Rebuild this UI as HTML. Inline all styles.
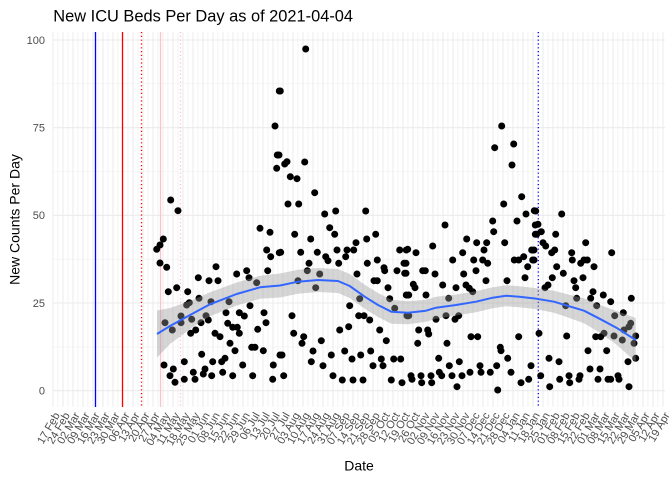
<!DOCTYPE html>
<html><head><meta charset="utf-8"><style>
html,body{margin:0;padding:0;background:#fff;}
svg{display:block;font-family:"Liberation Sans",Arial,sans-serif;}
</style></head><body>
<svg width="672" height="480" viewBox="0 0 672 480" xmlns="http://www.w3.org/2000/svg">
<defs>
<pattern id="vgp" patternUnits="userSpaceOnUse" x="52.5" y="0" width="10" height="480">
<rect x="0" y="0" width="1" height="480" fill="#ebebeb"/>
<rect x="5" y="0" width="0.8" height="480" fill="#f0f0f0"/>
</pattern>
</defs>
<rect width="672" height="480" fill="#fff"/>
<!-- minor horizontal grid -->
<g stroke="#f0f0f0" stroke-width="0.6">
<line x1="53" x2="665" y1="346.9" y2="346.9"/><line x1="53" x2="665" y1="259.2" y2="259.2"/><line x1="53" x2="665" y1="171.5" y2="171.5"/><line x1="53" x2="665" y1="83.8" y2="83.8"/>
</g>
<!-- vertical grid -->
<rect x="52.5" y="32" width="611.5" height="375" fill="url(#vgp)"/>
<!-- major horizontal grid -->
<g stroke="#ebebeb" stroke-width="1.1">
<line x1="53" x2="665" y1="390.7" y2="390.7"/><line x1="53" x2="665" y1="303" y2="303"/><line x1="53" x2="665" y1="215.35" y2="215.35"/><line x1="53" x2="665" y1="127.7" y2="127.7"/><line x1="53" x2="665" y1="40" y2="40"/>
</g>
<!-- reference lines -->
<g stroke-width="1.3">
<line x1="95.5" x2="95.5" y1="32" y2="407" stroke="#0000ff"/>
<line x1="122.5" x2="122.5" y1="32" y2="407" stroke="#ff0000"/>
<line x1="141.5" x2="141.5" y1="32" y2="407" stroke="#ff0000" stroke-dasharray="1.2 2.6"/>
<line x1="160.5" x2="160.5" y1="32" y2="407" stroke="#ffc0cb"/>
<line x1="180.5" x2="180.5" y1="32" y2="407" stroke="#ffc0cb" stroke-dasharray="1.2 2.6"/>
<line x1="538.3" x2="538.3" y1="32" y2="407" stroke="#0000ff" stroke-dasharray="1.2 2.6"/>
</g>
<!-- points -->
<path fill="none" stroke="#000" stroke-width="7" stroke-linecap="round" d="M156.7 249.3h0M160 245h0M163.3 239h0M160 263h0M166.7 267.3h0M170.7 200h0M178 210.7h0M168.3 291.7h0M176.7 287.7h0M187.7 291.7h0M198.3 277.7h0M209 280.7h0M218 280.7h0M216 266.7h0M236.7 274h0M246.7 270.7h0M249 277.7h0M256.7 282.7h0M260 228.3h0M270 232.3h0M266.7 250h0M270.7 256.7h0M267.7 270.7h0M279.3 252.7h0M275 126h0M277.3 155h0M276.7 168.3h0M279.3 91h0M165 322.7h0M172.3 330h0M181 316h0M181 322.7h0M186.7 305h0M189.3 302.7h0M191.7 319.3h0M199 298.3h0M206 315.7h0M201 322.7h0M208.3 320h0M211 301.7h0M229 301.7h0M226 312.7h0M250 305.7h0M264 312.7h0M266 322.7h0M239.3 312.7h0M244.3 316h0M190.7 333.3h0M195.7 330h0M215 333.3h0M220 336.7h0M227.7 323.3h0M232.7 327.3h0M237.3 327.3h0M239.3 333.3h0M257.7 329.3h0M230 343.3h0M235 350.7h0M251.7 347.3h0M255 347.3h0M263.3 350.7h0M280 355h0M201.7 354.3h0M164 365h0M173.3 369h0M170 375.7h0M175 382.3h0M184.3 361.7h0M184.3 379.3h0M193.3 372.3h0M195 379.3h0M203.3 374h0M205 369h0M212.7 361.7h0M211.7 375.7h0M221.7 361.7h0M225 358.3h0M222.7 372.3h0M232.7 375.7h0M242.7 365h0M252.7 375.7h0M273.3 365h0M272.7 379.3h0
M305.7 49h0M280.3 91h0M279 155h0M284.7 164h0M287 161.7h0M304.7 162h0M290.3 176.7h0M297 178.7h0M314.7 192.7h0M288 204h0M298.7 204h0M324.7 214h0M335.7 211h0M365.7 211h0M329.7 227.7h0M334.7 234.3h0M294.7 234.3h0M310.7 239h0M366.7 239h0M375.7 234.3h0M356 242.7h0M280.7 252.3h0M300.7 252.3h0M317.3 252.3h0M337 250h0M347 250h0M353.7 250h0M325.7 256.7h0M328 260.7h0M345.7 256.7h0M399.7 250h0M406.3 250h0M309 263.3h0M338.7 263.3h0M367.3 263.3h0M377.3 260h0M384 267.7h0M384.7 270.7h0M397 270.7h0M404.7 273.3h0M404 263.3h0M357 274h0M374 280.7h0M377.3 280.7h0M307.3 270.7h0M319.7 274h0M298 280.7h0M315.7 287.7h0M359.7 298.7h0M389.7 298.7h0M394.7 308.3h0M388 287.7h0M406.3 295h0M349.7 305.7h0M292 315.7h0M358.7 315.7h0M364 315.7h0M369.7 320h0M407 315.7h0M339.7 330h0M348.7 326.7h0M379.7 330h0M293.7 333.3h0M303.7 336.7h0M302 343.3h0M321.3 340.7h0M386.3 340.7h0M282 355h0M313 351h0M311.3 361.7h0M323 365.7h0M331.3 355h0M344.7 351h0M352 359h0M360.7 355h0M370.7 351h0M373 365.7h0M381.3 359h0M383 365.7h0M393.7 359h0M400.7 359h0M283.7 375.7h0M333 375.7h0M342.3 380h0M353 380h0M363 380h0M391.3 380h0M402 382.7h0
M501.7 126h0M494.7 147.7h0M513.7 144h0M512 165h0M521.7 196.7h0M503.7 204h0M526 214h0M534.3 210.7h0M445 225h0M492.7 221h0M517 221h0M493.7 231.7h0M535.3 225h0M535.3 234.3h0M466.7 239h0M432.7 246h0M476.7 242.7h0M486.7 242.7h0M504.7 242.7h0M484 250h0M531.7 250h0M407.7 249.3h0M416 252.7h0M452.7 260h0M462.7 252.7h0M473.7 260h0M482.7 260h0M487.7 263.3h0M514.3 260h0M518.7 260h0M523.7 256.7h0M532.7 260h0M527.7 266.7h0M406 263.3h0M406 273.3h0M422.7 270.7h0M425.3 270.7h0M435 274h0M463.7 274h0M476 270.7h0M525 277.7h0M413.3 284.3h0M415 287.7h0M442.7 285h0M456 287.7h0M466 285h0M469.3 288.3h0M486 280.7h0M507 280.7h0M408.7 295h0M426 295h0M448.7 298.3h0M472.7 291.7h0M408.7 315.7h0M436 319.3h0M446 315.7h0M455 319.3h0M458.7 315.7h0M418.7 330h0M427.7 330h0M428.7 334h0M417.7 343.3h0M447 343.3h0M471 336.7h0M477.7 336.7h0M518.7 336.7h0M500.3 347.3h0M501 350.7h0M438.7 358.3h0M449.3 365.7h0M459.3 361.7h0M480 365.7h0M496.7 365.7h0M507.7 358.3h0M531 365.7h0M411 375.7h0M412 379.3h0M421 375.7h0M421.7 382.7h0M431 375.7h0M431.7 382.7h0M439.3 372.3h0M441.7 375.7h0M452 375.7h0M462 375.7h0M470 372.3h0M481 372.3h0M490.3 372.3h0M511 372.3h0M521 382.7h0M528.7 379.3h0M457 386.7h0M497.7 390h0
M535.7 211h0M561.7 214h0M538 224.3h0M536.7 234.3h0M541.3 231.7h0M555.7 234.3h0M543 242.7h0M545.7 246h0M585.7 242.7h0M611.7 252.7h0M534 250h0M554.7 250h0M551.7 252.7h0M571.7 252.7h0M534 260h0M572.3 260h0M580.7 263.3h0M584 260h0M587.3 260h0M594 266.7h0M556.7 266.7h0M563.3 273.3h0M552.3 277.7h0M583 277.7h0M574 280.7h0M548 285h0M545 287.7h0M575.7 287.7h0M593 291.7h0M603.3 295h0M590.7 298.3h0M610.7 301.7h0M631.3 298.3h0M576.7 298.3h0M565.7 305.7h0M596.7 305.7h0M614.7 315.7h0M623.3 312.7h0M630.7 323.3h0M629 326.7h0M624 330h0M614 336h0M622.3 340h0M604 333.3h0M634 343.3h0M635.7 336h0M539 333.3h0M566.7 336h0M595.7 336.7h0M600.7 336.7h0M588 350.7h0M606.7 350.7h0M549 358.3h0M559 361.7h0M628 361.7h0M635.7 358.3h0M540.7 375.7h0M569 375.7h0M580 375.7h0M590 369h0M600 369h0M618 375.7h0M559.7 379.3h0M569.7 382.7h0M579 379.3h0M598 379.3h0M608 379.3h0M610.7 379.3h0M619 379.3h0M549.7 386.7h0M629 386.7h0"/>
<!-- ribbon -->
<polygon fill="#999999" fill-opacity="0.4" points="157,310.5 170,308 193.3,299.8 210,292.3 236.7,282.5 260,275.8 280,273.5 298,269.7 318,268 338,269 349.7,274 364.7,284.7 378,293 391.3,299.7 408,301.2 426,299.7 436,296.7 456,294.5 476,291.2 492.7,287.2 506,285.2 519.3,286.2 535,288 554,290.7 567.3,294.2 584,298.2 600.7,305.3 617.3,311.3 635.7,318 635.7,362 617.3,345.3 600.7,333.3 584,323.2 567.3,317.2 554,312.7 535,309 519.3,307.2 506,306.2 492.7,308.2 476,312.2 456,315.5 436,318.7 426,321.7 408,324.2 391.3,323.7 378,317 364.7,308.7 349.7,298 338,293 318,292 298,293.7 280,297.5 260,298.8 236.7,305.5 210,316.3 193.3,326.8 170,344 157,357.5"/>
<polyline fill="none" stroke="#3366ff" stroke-width="2" stroke-linejoin="round" points="157,334 170,326 193.3,313.3 210,304.3 236.7,294 260,287.3 280,285.5 298,281.7 318,280 338,281 349.7,286 364.7,296.7 378,305 391.3,311.7 408,312.7 426,310.7 436,307.7 456,305 476,301.7 492.7,297.7 506,295.7 519.3,296.7 535,298.5 554,301.7 567.3,305.7 584,310.7 600.7,319.3 617.3,328.3 635.7,340"/>
<!-- y tick labels -->
<g fill="#4d4d4d" font-size="11" text-anchor="end">
<text x="45" y="394.5">0</text><text x="45" y="306.8">25</text><text x="45" y="219.1">50</text><text x="45" y="131.5">75</text><text x="45" y="43.8">100</text>
</g>
<!-- x tick labels -->
<g fill="#4d4d4d" font-size="11" text-anchor="end">
<text transform="translate(53,411) rotate(-60)" dy="0.75em">17 Feb</text>
<text transform="translate(63,411) rotate(-60)" dy="0.75em">24 Feb</text>
<text transform="translate(73,411) rotate(-60)" dy="0.75em">02 Mar</text>
<text transform="translate(83,411) rotate(-60)" dy="0.75em">09 Mar</text>
<text transform="translate(93,411) rotate(-60)" dy="0.75em">16 Mar</text>
<text transform="translate(103,411) rotate(-60)" dy="0.75em">23 Mar</text>
<text transform="translate(113,411) rotate(-60)" dy="0.75em">30 Mar</text>
<text transform="translate(123,411) rotate(-60)" dy="0.75em">06 Apr</text>
<text transform="translate(133,411) rotate(-60)" dy="0.75em">13 Apr</text>
<text transform="translate(143,411) rotate(-60)" dy="0.75em">20 Apr</text>
<text transform="translate(153,411) rotate(-60)" dy="0.75em">27 Apr</text>
<text transform="translate(163,411) rotate(-60)" dy="0.75em">04 May</text>
<text transform="translate(173,411) rotate(-60)" dy="0.75em">11 May</text>
<text transform="translate(183,411) rotate(-60)" dy="0.75em">18 May</text>
<text transform="translate(193,411) rotate(-60)" dy="0.75em">25 May</text>
<text transform="translate(203,411) rotate(-60)" dy="0.75em">01 Jun</text>
<text transform="translate(213,411) rotate(-60)" dy="0.75em">08 Jun</text>
<text transform="translate(223,411) rotate(-60)" dy="0.75em">15 Jun</text>
<text transform="translate(233,411) rotate(-60)" dy="0.75em">22 Jun</text>
<text transform="translate(243,411) rotate(-60)" dy="0.75em">29 Jun</text>
<text transform="translate(253,411) rotate(-60)" dy="0.75em">06 Jul</text>
<text transform="translate(263,411) rotate(-60)" dy="0.75em">13 Jul</text>
<text transform="translate(273,411) rotate(-60)" dy="0.75em">20 Jul</text>
<text transform="translate(283,411) rotate(-60)" dy="0.75em">27 Jul</text>
<text transform="translate(293,411) rotate(-60)" dy="0.75em">03 Aug</text>
<text transform="translate(303,411) rotate(-60)" dy="0.75em">10 Aug</text>
<text transform="translate(313,411) rotate(-60)" dy="0.75em">17 Aug</text>
<text transform="translate(323,411) rotate(-60)" dy="0.75em">24 Aug</text>
<text transform="translate(333,411) rotate(-60)" dy="0.75em">31 Aug</text>
<text transform="translate(343,411) rotate(-60)" dy="0.75em">07 Sep</text>
<text transform="translate(353,411) rotate(-60)" dy="0.75em">14 Sep</text>
<text transform="translate(363,411) rotate(-60)" dy="0.75em">21 Sep</text>
<text transform="translate(373,411) rotate(-60)" dy="0.75em">28 Sep</text>
<text transform="translate(383,411) rotate(-60)" dy="0.75em">05 Oct</text>
<text transform="translate(393,411) rotate(-60)" dy="0.75em">12 Oct</text>
<text transform="translate(403,411) rotate(-60)" dy="0.75em">19 Oct</text>
<text transform="translate(413,411) rotate(-60)" dy="0.75em">26 Oct</text>
<text transform="translate(423,411) rotate(-60)" dy="0.75em">02 Nov</text>
<text transform="translate(433,411) rotate(-60)" dy="0.75em">09 Nov</text>
<text transform="translate(443,411) rotate(-60)" dy="0.75em">16 Nov</text>
<text transform="translate(453,411) rotate(-60)" dy="0.75em">23 Nov</text>
<text transform="translate(463,411) rotate(-60)" dy="0.75em">30 Nov</text>
<text transform="translate(473,411) rotate(-60)" dy="0.75em">07 Dec</text>
<text transform="translate(483,411) rotate(-60)" dy="0.75em">14 Dec</text>
<text transform="translate(493,411) rotate(-60)" dy="0.75em">21 Dec</text>
<text transform="translate(503,411) rotate(-60)" dy="0.75em">28 Dec</text>
<text transform="translate(513,411) rotate(-60)" dy="0.75em">04 Jan</text>
<text transform="translate(523,411) rotate(-60)" dy="0.75em">11 Jan</text>
<text transform="translate(533,411) rotate(-60)" dy="0.75em">18 Jan</text>
<text transform="translate(543,411) rotate(-60)" dy="0.75em">25 Jan</text>
<text transform="translate(553,411) rotate(-60)" dy="0.75em">01 Feb</text>
<text transform="translate(563,411) rotate(-60)" dy="0.75em">08 Feb</text>
<text transform="translate(573,411) rotate(-60)" dy="0.75em">15 Feb</text>
<text transform="translate(583,411) rotate(-60)" dy="0.75em">22 Feb</text>
<text transform="translate(593,411) rotate(-60)" dy="0.75em">01 Mar</text>
<text transform="translate(603,411) rotate(-60)" dy="0.75em">08 Mar</text>
<text transform="translate(613,411) rotate(-60)" dy="0.75em">15 Mar</text>
<text transform="translate(623,411) rotate(-60)" dy="0.75em">22 Mar</text>
<text transform="translate(633,411) rotate(-60)" dy="0.75em">29 Mar</text>
<text transform="translate(643,411) rotate(-60)" dy="0.75em">05 Apr</text>
<text transform="translate(653,411) rotate(-60)" dy="0.75em">12 Apr</text>
<text transform="translate(663,411) rotate(-60)" dy="0.75em">19 Apr</text>
</g>
<!-- titles -->
<text x="53.3" y="21.7" font-size="16.4" fill="#000">New ICU Beds Per Day as of 2021-04-04</text>
<text x="359" y="470.5" font-size="14" text-anchor="middle" fill="#000">Date</text>
<text transform="translate(19.5,219.5) rotate(-90)" font-size="14" text-anchor="middle" fill="#000">New Counts Per Day</text>
</svg>
</body></html>
